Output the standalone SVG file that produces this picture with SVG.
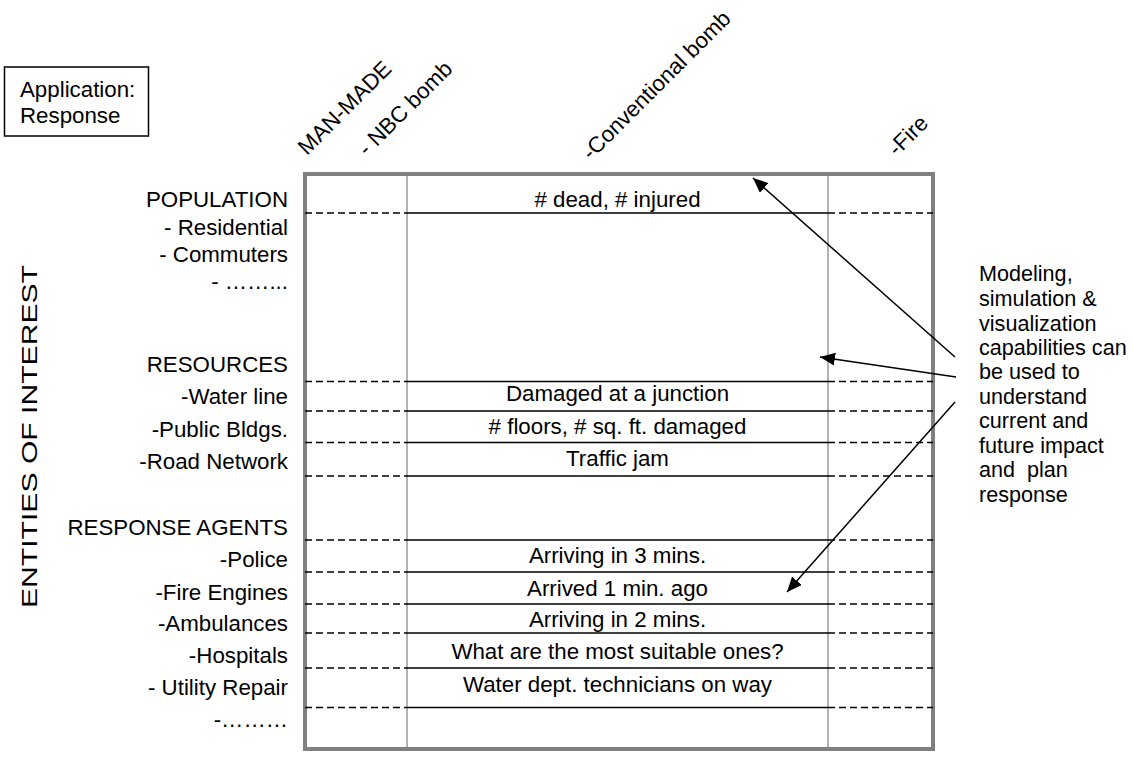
<svg xmlns="http://www.w3.org/2000/svg" width="1135" height="761" viewBox="0 0 1135 761">
<defs>
<style>
text{font-family:"Liberation Sans",Arial,sans-serif;font-size:22.3px;fill:#000}
.lbl{text-anchor:end}
.mid{text-anchor:middle}
.rt{font-size:21.6px}
.sol{stroke:#000;stroke-width:1.5;fill:none}
.dsh{stroke:#000;stroke-width:1.5;stroke-dasharray:7,4;fill:none}
.vline{stroke:#999;stroke-width:1.5;fill:none}
.arr{stroke:#000;stroke-width:1.5;fill:none;marker-end:url(#ah)}
</style>
<marker id="ah" markerWidth="16" markerHeight="14" refX="15" refY="6.5" orient="auto" markerUnits="userSpaceOnUse">
<path d="M0,0 L15,6.5 L0,13 Z" fill="#000"/>
</marker>
</defs>
<rect width="1135" height="761" fill="#fff"/>

<g id="app-box">
<rect x="4.5" y="67" width="144" height="69" fill="#fff" stroke="#000" stroke-width="1.5"/>
<text x="20" y="97">Application:</text>
<text x="20" y="123">Response</text>
</g>

<g id="column-headers">
<text transform="translate(307,156) rotate(-45)">MAN-MADE</text>
<text transform="translate(367,157) rotate(-45)">- NBC bomb</text>
<text transform="translate(591,161) rotate(-45)">-Conventional bomb</text>
<text transform="translate(897,157) rotate(-45)">-Fire</text>
</g>

<g id="axis-label">
<text transform="translate(36.5,436.5) rotate(-90)" text-anchor="middle" font-size="26" textLength="343" lengthAdjust="spacingAndGlyphs">ENTITIES OF INTEREST</text>
</g>

<g id="grid">
<rect x="305" y="174" width="628" height="575" fill="none" stroke="#808080" stroke-width="4"/>
<line class="vline" x1="407" y1="176" x2="407" y2="747"/>
<line class="vline" x1="828" y1="176" x2="828" y2="747"/>
<g id="rows">
<path class="dsh" d="M305,213H407M828,213H933M305,381.5H407M828,381.5H933M305,411H407M828,411H933M305,442.5H407M828,442.5H933M305,476H407M828,476H933M305,540H407M828,540H933M305,572H407M828,572H933M305,604H407M828,604H933M305,633H407M828,633H933M305,668H407M828,668H933M305,707.5H407M828,707.5H933"/>
<path class="sol" d="M407,213H828M407,381.5H828M407,411H828M407,442.5H828M407,476H828M407,540H828M407,572H828M407,604H828M407,633H828M407,668H828M407,707.5H828"/>
</g>
</g>

<g id="population">
<text class="lbl" x="288" y="207">POPULATION</text>
<text class="lbl" x="288" y="235">- Residential</text>
<text class="lbl" x="288" y="262">- Commuters</text>
<text class="lbl" x="288" y="289">- ……...</text>
</g>

<g id="resources">
<text class="lbl" x="288" y="372">RESOURCES</text>
<text class="lbl" x="288" y="404">-Water line</text>
<text class="lbl" x="288" y="436.5">-Public Bldgs.</text>
<text class="lbl" x="288" y="469">-Road Network</text>
</g>

<g id="response-agents">
<text class="lbl" x="288" y="535">RESPONSE AGENTS</text>
<text class="lbl" x="288" y="567">-Police</text>
<text class="lbl" x="288" y="600">-Fire Engines</text>
<text class="lbl" x="288" y="631">-Ambulances</text>
<text class="lbl" x="288" y="663">-Hospitals</text>
<text class="lbl" x="288" y="695">- Utility Repair</text>
<text class="lbl" x="288" y="727">-………</text>
</g>

<g id="cells">
<text class="mid" x="617.5" y="207"># dead, # injured</text>
<text class="mid" x="617.5" y="401">Damaged at a junction</text>
<text class="mid" x="617.5" y="434"># floors, # sq. ft. damaged</text>
<text class="mid" x="617.5" y="466">Traffic jam</text>
<text class="mid" x="617.5" y="563">Arriving in 3 mins.</text>
<text class="mid" x="617.5" y="595.5">Arrived 1 min. ago</text>
<text class="mid" x="617.5" y="627">Arriving in 2 mins.</text>
<text class="mid" x="617.5" y="659">What are the most suitable ones?</text>
<text class="mid" x="617.5" y="692">Water dept. technicians on way</text>
</g>

<g id="note">
<text class="rt" x="979" y="281">Modeling,</text>
<text class="rt" x="979" y="305.5">simulation &amp;</text>
<text class="rt" x="979" y="330.5">visualization</text>
<text class="rt" x="979" y="355">capabilities can</text>
<text class="rt" x="979" y="379">be used to</text>
<text class="rt" x="979" y="403.5">understand</text>
<text class="rt" x="979" y="428">current and</text>
<text class="rt" x="979" y="452.5">future impact</text>
<text class="rt" x="979" y="477" style="white-space:pre">and  plan</text>
<text class="rt" x="979" y="501.5">response</text>
</g>

<g id="connectors">
<line class="arr" x1="955" y1="357" x2="753" y2="178"/>
<line class="arr" x1="956" y1="377" x2="820" y2="357"/>
<line class="arr" x1="955" y1="402" x2="787" y2="592"/>
</g>
</svg>
